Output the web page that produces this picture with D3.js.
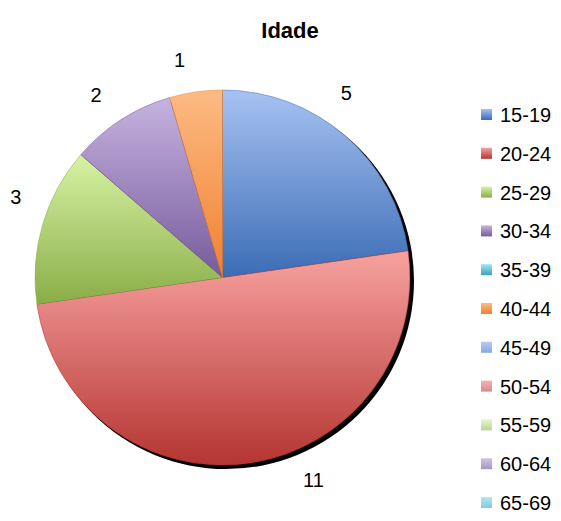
<!DOCTYPE html>
<html>
<head>
<meta charset="utf-8">
<script src="https://cdn.jsdelivr.net/npm/d3@7"></script>
<style>
  body { margin: 0; background: #fff; }
  svg { display: block; font-family: Arial, "Liberation Sans", sans-serif; }
</style>
</head>
<body>
<div id="chart"></div>
<script>
// age groups and counts
const categories = ['15-19','20-24','25-29','30-34','35-39','40-44','45-49','50-54','55-59','60-64','65-69'];
const values = [5, 11, 3, 2, 0, 1, 0, 0, 0, 0, 0];
const title = 'Idade';

// gradient colours, light at top, dark at bottom
const topColors = ['#a7c2f2','#f7a2a0','#d7f2a4','#c6b3e0','#a0e4f6','#fcbb84','#b5cdf5','#f6b4b4','#e6f8c8','#d2c6e6','#b4e8f4'];
const bottomColors = ['#3b6cb5','#b53532','#8aad47','#765a9b','#3aa3bf','#f08030','#8aa8dc','#d88a8a','#bcd296','#a494c4','#84c8dc'];
// small angular nudge of the data labels (degrees), like excel's placement
const labelNudge = [-7, -16, 5, -2, 0, -3, 0, 0, 0, 0, 0];

const width = 561;
const height = 521;
const cx = 222.5, cy = 277.5, radius = 187.5;

const svg = d3.select('#chart')
  .append('svg')
  .attr('width', width)
  .attr('height', height);

const defs = svg.append('defs');
categories.forEach(function(c, i) {
  const g = defs.append('linearGradient')
    .attr('id', 'grad' + i)
    .attr('x1', 0).attr('y1', 0).attr('x2', 0).attr('y2', 1);
  g.append('stop').attr('offset', '0%').attr('stop-color', topColors[i]);
  g.append('stop').attr('offset', '100%').attr('stop-color', bottomColors[i]);
});
defs.append('filter').attr('id', 'blur')
  .append('feGaussianBlur').attr('stdDeviation', 0.6);

const data = categories.map(function(c, i) { return { cat: c, value: values[i], i: i }; });

const pie = d3.pie().sort(null).value(function(d) { return d.value; });
const arcs = pie(data);
const arc = d3.arc().innerRadius(0).outerRadius(radius);

const plot = svg.append('g').attr('transform', 'translate(' + cx + ',' + cy + ')');

// shadow
plot.append('circle')
  .attr('cx', 3.5).attr('cy', 3.5)
  .attr('r', radius + 0.5)
  .attr('fill', '#000')
  .attr('filter', 'url(#blur)');

plot.selectAll('path.slice')
  .data(arcs.filter(function(d) { return d.value > 0; }))
  .enter()
  .append('path')
  .attr('class', 'slice')
  .attr('d', arc)
  .attr('fill', function(d) { return 'url(#grad' + d.data.i + ')'; })
  .attr('stroke', function(d) { return bottomColors[d.data.i]; })
  .attr('stroke-width', 0.5);

// data labels
const labelRadius = 222;
plot.selectAll('text.lbl')
  .data(arcs.filter(function(d) { return d.value > 0; }))
  .enter()
  .append('text')
  .attr('class', 'lbl')
  .attr('x', function(d) {
    const a = (d.startAngle + d.endAngle) / 2 + labelNudge[d.data.i] * Math.PI / 180;
    return labelRadius * Math.sin(a);
  })
  .attr('y', function(d) {
    const a = (d.startAngle + d.endAngle) / 2 + labelNudge[d.data.i] * Math.PI / 180;
    return -labelRadius * Math.cos(a);
  })
  .attr('dy', '0.35em')
  .attr('text-anchor', 'middle')
  .attr('font-size', '20px')
  .attr('fill', '#000')
  .text(function(d) { return d.value; });

// title
svg.append('text')
  .attr('x', 290)
  .attr('y', 38)
  .attr('text-anchor', 'middle')
  .attr('font-size', '22px')
  .attr('font-weight', 'bold')
  .text(title);

// legend
const legendY = d3.scalePoint().domain(categories).range([115, 503]);
const legend = svg.selectAll('g.leg')
  .data(categories)
  .enter()
  .append('g')
  .attr('class', 'leg')
  .attr('transform', function(d) { return 'translate(481,' + legendY(d) + ')'; });

legend.append('rect')
  .attr('x', 0).attr('y', -6)
  .attr('width', 11).attr('height', 11)
  .attr('fill', function(d, i) { return 'url(#grad' + i + ')'; });

legend.append('text')
  .attr('x', 19)
  .attr('y', 0)
  .attr('dy', '0.35em')
  .attr('font-size', '20px')
  .text(function(d) { return d; });
</script>
</body>
</html>
